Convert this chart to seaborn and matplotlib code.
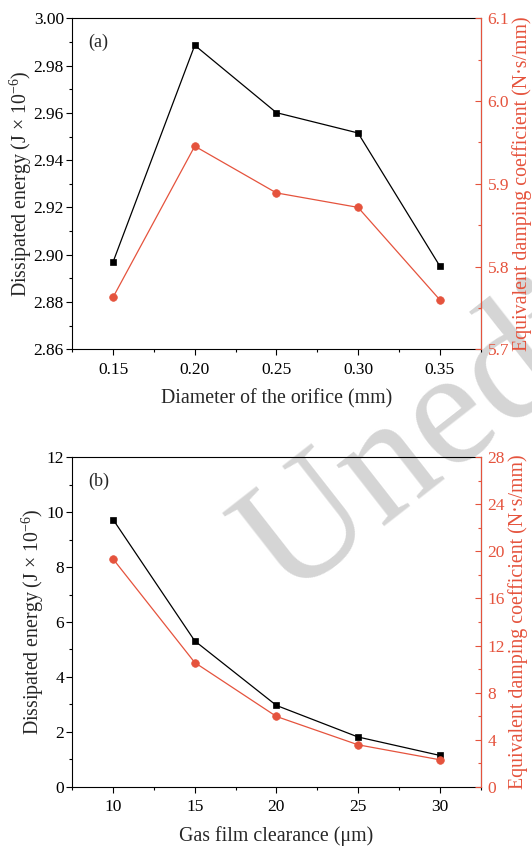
import numpy as np
import pandas as pd
import matplotlib
matplotlib.use("Agg")
import matplotlib.pyplot as plt
import seaborn as sns
from matplotlib.ticker import MultipleLocator, FormatStrFormatter

# (a) orifice diameter sweep
orifice_mm = [0.15, 0.20, 0.25, 0.30, 0.35]
energy_a = [2.897, 2.9886, 2.9601, 2.9515, 2.8953]
damping_a = [5.763, 5.9455, 5.889, 5.8715, 5.760]

# (b) gas film clearance sweep
clearance_um = [10, 15, 20, 25, 30]
energy_b = [9.73, 5.31, 2.96, 1.81, 1.14]
damping_b = [19.35, 10.55, 5.97, 3.56, 2.29]

sns.set_theme(style="ticks")
plt.rcParams["font.family"] = ["Liberation Serif", "DejaVu Serif"]
plt.rcParams["mathtext.fontset"] = "custom"
plt.rcParams["mathtext.rm"] = "Liberation Serif"
plt.rcParams["mathtext.it"] = "Liberation Serif:italic"

RED = "#E5533D"
TICK_FS = 12.5
LABEL_FS = 14.3

fig = plt.figure(figsize=(5.32, 8.49), dpi=100)
fig.patch.set_facecolor("white")

# faint diagonal watermark behind the plots
fig.text(0.538, 0.294, "Unedited", rotation=38, rotation_mode="anchor",
         ha="left", va="baseline", fontsize=120, color="#d5d5d5",
         family="Liberation Serif", zorder=-1)


def panel(rect, x, y_left, y_right, xlim, xmaj, xmin, xfmt,
          ylim_l, ymaj_l, ymin_l, yfmt_l, ylim_r, ymaj_r, ymin_r, yfmt_r,
          xlabel, tag):
    ax = fig.add_axes(rect)
    ax.patch.set_alpha(0)
    df = pd.DataFrame({"x": x, "e": y_left, "c": y_right})
    sns.lineplot(data=df, x="x", y="e", ax=ax, color="black", lw=0.9,
                 marker="s", markersize=5, markeredgecolor="black",
                 markerfacecolor="black", markeredgewidth=0.5)
    ax.set_xlim(*xlim)
    ax.set_ylim(*ylim_l)
    ax.xaxis.set_major_locator(MultipleLocator(xmaj))
    ax.xaxis.set_minor_locator(MultipleLocator(xmin))
    ax.xaxis.set_major_formatter(FormatStrFormatter(xfmt))
    ax.yaxis.set_major_locator(MultipleLocator(ymaj_l))
    ax.yaxis.set_minor_locator(MultipleLocator(ymin_l))
    ax.yaxis.set_major_formatter(FormatStrFormatter(yfmt_l))
    ax.tick_params(which="both", direction="out", colors="black",
                   width=0.8, labelsize=TICK_FS)
    ax.tick_params(which="major", length=4)
    ax.tick_params(which="minor", length=2.5)
    ax.tick_params(axis="x", pad=5)
    ax.tick_params(axis="y", pad=2)
    for s in ax.spines.values():
        s.set_linewidth(0.8)
        s.set_color("black")
        s.set_visible(True)
    ax.set_xlabel(xlabel, fontsize=LABEL_FS, labelpad=8)
    ax.set_ylabel("Dissipated energy (J × 10$^{\\mathregular{-6}}$)",
                  fontsize=LABEL_FS, labelpad=0)
    ax.text(0.038, 0.928, tag, transform=ax.transAxes, fontsize=13,
            ha="left", va="center")

    ax2 = ax.twinx()
    ax2.patch.set_alpha(0)
    sns.lineplot(data=df, x="x", y="c", ax=ax2, color=RED, lw=0.9,
                 marker="o", markersize=5.5, markeredgecolor=RED,
                 markerfacecolor=RED, markeredgewidth=0.5)
    ax2.set_ylim(*ylim_r)
    ax2.yaxis.set_major_locator(MultipleLocator(ymaj_r))
    ax2.yaxis.set_minor_locator(MultipleLocator(ymin_r))
    ax2.yaxis.set_major_formatter(FormatStrFormatter(yfmt_r))
    ax2.tick_params(which="both", direction="in", colors=RED, width=0.8,
                    labelsize=TICK_FS, pad=5)
    ax2.tick_params(which="major", length=4)
    ax2.tick_params(which="minor", length=2.5)
    for name, s in ax2.spines.items():
        s.set_linewidth(0.8)
        s.set_visible(name == "right")
    ax2.spines["right"].set_color(RED)
    ax2.set_ylabel("Equivalent damping coefficient (N·s/mm)",
                   fontsize=LABEL_FS, color=RED, labelpad=2.5)
    ax2.set_xlabel("")
    return ax, ax2


panel([0.1359, 0.5886, 0.7673, 0.3898], orifice_mm, energy_a, damping_a,
      (0.125, 0.375), 0.05, 0.025, "%.2f",
      (2.86, 3.00), 0.02, 0.01, "%.2f",
      (5.7, 6.1), 0.1, 0.05, "%.1f",
      "Diameter of the orifice (mm)", "(a)")

panel([0.1359, 0.0734, 0.7673, 0.3880], clearance_um, energy_b, damping_b,
      (7.5, 32.5), 5, 2.5, "%d",
      (0, 12), 2, 1, "%d",
      (0, 28), 4, 2, "%d",
      "Gas film clearance (μm)", "(b)")

fig.savefig("out.png", dpi=100)
